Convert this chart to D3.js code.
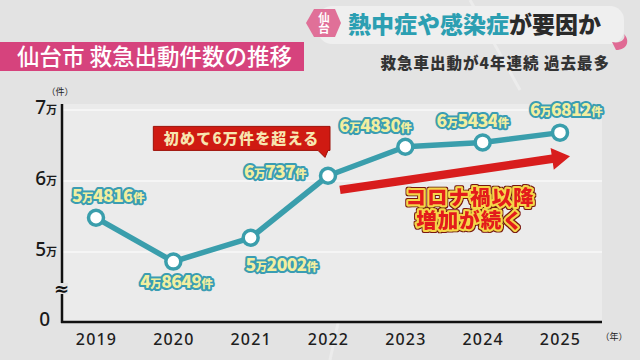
<!DOCTYPE html>
<html><head><meta charset="utf-8">
<script src="https://cdn.jsdelivr.net/npm/d3@7"></script>
<style>
html,body{margin:0;padding:0;background:#e3e3e3;}
svg{display:block;font-family:"Noto Sans CJK JP","Noto Sans",sans-serif;}
</style></head><body>
<svg id="c" width="640" height="360"></svg>
<script>
// ---- data ----
const years = ["2019","2020","2021","2022","2023","2024","2025"];
const values = [54816, 48649, 52002, 60737, 64830, 65434, 66812];
const yTickValues = [0, 50000, 60000, 70000];
const yTickLabels = ["0", "5", "6", "7"];
const title = "仙台市 救急出動件数の推移";
const headline1 = "熱中症や感染症";
const headline2 = "が要因か";
const subhead = "救急車出動が4年連続 過去最多";
const badgeText = "仙台";
const calloutText = "初めて6万件を超える";
const trendText = ["コロナ禍以降", "増加が続く"];

// ---- layout ----
const svg = d3.select("#c");
const W = 640, H = 360;
const plot = {left: 62, right: 602, top: 104, bottom: 322};

const x = d3.scalePoint().domain(years).range([96, 560]);
// broken axis: 0 at bottom, then 45000..70000 linear
const y = d3.scaleLinear().domain([0, 45000, 70000]).range([plot.bottom, 287.5, 110]);

// filter: dark outline around trend text
const defs = svg.append("defs");
const f = defs.append("filter").attr("id", "outl").attr("x", "-10%").attr("y", "-30%").attr("width", "120%").attr("height", "160%");
f.append("feMorphology").attr("in", "SourceAlpha").attr("operator", "dilate").attr("radius", 1.3).attr("result", "d");
f.append("feFlood").attr("flood-color", "#7a1510").attr("result", "c");
f.append("feComposite").attr("in", "c").attr("in2", "d").attr("operator", "in").attr("result", "o");
const fm = f.append("feMerge");
fm.append("feMergeNode").attr("in", "o");
fm.append("feMergeNode").attr("in", "SourceGraphic");

// background
svg.append("rect").attr("width", W).attr("height", H).attr("fill", "#e3e3e3");
const deco = svg.append("g").attr("stroke", "#ececec").attr("stroke-width", 3).attr("fill", "none");
deco.append("path").attr("d", "M470,0 L520,90");
deco.append("path").attr("d", "M380,130 L330,360");

// plot panel
svg.append("rect").attr("x", plot.left).attr("y", plot.top)
  .attr("width", plot.right - plot.left).attr("height", plot.bottom - plot.top)
  .attr("fill", "#ebebeb");

// gridlines
svg.append("g").selectAll("line").data(yTickValues.slice(1)).join("line")
  .attr("x1", plot.left).attr("x2", plot.right)
  .attr("y1", d => y(d)).attr("y2", d => y(d))
  .attr("stroke", "#f8f8f8").attr("stroke-width", 1.5);

// axes
const yAxis = d3.axisLeft(y).tickValues(yTickValues).tickSize(0).tickFormat("");
const yg = svg.append("g").attr("transform", `translate(${plot.left},0)`).call(yAxis);
yg.select(".domain").attr("stroke", "#111").attr("stroke-width", 2.5)
  .attr("d", `M0,${plot.top}V${plot.bottom + 1}`);
yg.selectAll(".tick").each(function(d, i) {
  const t = d3.select(this).append("text").attr("x", d > 0 ? -5 : -12).attr("dy", "0.36em")
    .attr("text-anchor", "end").attr("fill", "#1a1a1a").style("font-family", "'Noto Sans',sans-serif");
  t.append("tspan").attr("font-size", 19).attr("font-weight", 500).text(yTickLabels[i]);
  if (d > 0) t.append("tspan").attr("font-size", 11).attr("font-weight", 700)
    .style("font-family", "'Noto Sans CJK JP'").text("万");
});
svg.append("text").attr("x", 60).attr("y", 95).attr("text-anchor", "middle")
  .attr("font-size", 9).attr("fill", "#222").text("（件）");

// break mark
svg.append("rect").attr("x", plot.left - 6).attr("y", 283).attr("width", 12).attr("height", 11).attr("fill", "#e3e3e3");
svg.append("text").attr("x", plot.left - 0.5).attr("y", 289).attr("dy", "0.35em").attr("text-anchor", "middle")
  .attr("font-size", 18).attr("font-weight", 700).attr("fill", "#111")
  .style("font-family", "'DejaVu Sans',sans-serif").text("≈");

const xAxis = d3.axisBottom(x).tickSize(0).tickPadding(12);
const xg = svg.append("g").attr("transform", `translate(0,${plot.bottom})`).call(xAxis);
xg.select(".domain").attr("stroke", "#111").attr("stroke-width", 2.5)
  .attr("d", `M${plot.left - 1},0H${plot.right}`);
xg.selectAll(".tick text").attr("font-size", 16).attr("font-weight", 500)
  .attr("fill", "#1e1e1e").attr("letter-spacing", 1.2)
  .style("font-family", "'Noto Sans',sans-serif");
svg.append("text").attr("x", 614).attr("y", 340).attr("text-anchor", "middle")
  .attr("font-size", 9).attr("fill", "#222").text("（年）");

// line + points
const pts = years.map((yr, i) => ({yr, v: values[i]}));
svg.append("path").datum(pts)
  .attr("d", d3.line().x(d => x(d.yr)).y(d => y(d.v)))
  .attr("fill", "none").attr("stroke", "#3a9eac").attr("stroke-width", 5.5).attr("stroke-linejoin", "round");
svg.append("g").selectAll("circle").data(pts).join("circle")
  .attr("cx", d => x(d.yr)).attr("cy", d => y(d.v)).attr("r", 7.5)
  .attr("fill", "#ffffff").attr("stroke", "#3a9eac").attr("stroke-width", 3.5);

// data labels (offset from point)
const labelOffsets = [[12,-22],[3,21],[31,27],[-53,-4],[-30,-20],[-10,-21],[6,-22]];
const lg = svg.append("g");
pts.forEach((d, i) => {
  const man = Math.floor(d.v / 10000), rest = d.v % 10000;
  const t = lg.append("text")
    .attr("x", x(d.yr) + labelOffsets[i][0]).attr("y", y(d.v) + labelOffsets[i][1])
    .attr("dy", "0.36em").attr("text-anchor", "middle")
    .attr("fill", "#f2eea0").attr("stroke", "#3a9db3").attr("stroke-width", 4)
    .attr("stroke-linejoin", "round").attr("paint-order", "stroke")
    .attr("font-weight", 900).attr("letter-spacing", -0.6);
  t.append("tspan").attr("font-size", 17.5).text(man);
  t.append("tspan").attr("font-size", 11.5).text("万");
  t.append("tspan").attr("font-size", 17.5).text(rest);
  t.append("tspan").attr("font-size", 11.5).text("件");
});

// callout box: 初めて6万件を超える
const cb = {x0: x("2020") - 20, x1: x("2022") + 2, yc: y(66000)};
const cg = svg.append("g");
cg.append("path")
  .attr("d", `M${cb.x0},${cb.yc - 12}H${cb.x1}V${cb.yc + 12}H${cb.x1 - 2}L${cb.x1 - 5},${cb.yc + 19}L${cb.x1 - 12},${cb.yc + 12}H${cb.x0}Z`)
  .attr("fill", "#cf1a12").attr("stroke", "#9c1008").attr("stroke-width", 1);
cg.append("text").attr("x", (cb.x0 + cb.x1) / 2).attr("y", cb.yc).attr("dy", "0.36em")
  .attr("text-anchor", "middle").attr("font-size", 15).attr("font-weight", 900)
  .attr("fill", "#f7e6b0").attr("letter-spacing", 1.2).text(calloutText);

// trend arrow
const a0 = [x("2022") + 12, y(58750)], a1 = [x("2025") + 10, y(63500)];
const ang = Math.atan2(a1[1] - a0[1], a1[0] - a0[0]);
const headLen = 18, headW = 11, shaftW = 4.2;
const ux = Math.cos(ang), uy = Math.sin(ang), nx = -uy, ny = ux;
const hb = [a1[0] - ux * headLen, a1[1] - uy * headLen];
const arrowPts = [
  [a0[0] + nx * shaftW, a0[1] + ny * shaftW],
  [hb[0] + nx * shaftW, hb[1] + ny * shaftW],
  [hb[0] + nx * headW, hb[1] + ny * headW],
  a1,
  [hb[0] - nx * headW, hb[1] - ny * headW],
  [hb[0] - nx * shaftW, hb[1] - ny * shaftW],
  [a0[0] - nx * shaftW, a0[1] - ny * shaftW]
];
svg.append("path").attr("d", d3.line()(arrowPts) + "Z").attr("fill", "#d81d1d");

// trend text (one text element, two lines)
const tt = svg.append("g").attr("filter", "url(#outl)").append("text")
  .attr("x", 470).attr("y", y(57600)).attr("text-anchor", "middle")
  .attr("font-size", 20.5).attr("font-weight", 900).attr("fill", "#e31e1a").attr("letter-spacing", 1)
  .attr("stroke", "#f5d64a").attr("stroke-width", 4).attr("stroke-linejoin", "round")
  .attr("paint-order", "stroke");
trendText.forEach((s, i) => {
  tt.append("tspan").attr("x", 470).attr("dy", i === 0 ? "0.36em" : 23).text(s);
});

// title bar
svg.append("rect").attr("x", 0).attr("y", 42).attr("width", 304).attr("height", 29).attr("fill", "#d6437d");
svg.append("text").attr("x", 17).attr("y", 56.5).attr("dy", "0.36em")
  .attr("font-size", 22.5).attr("font-weight", 500).attr("fill", "#ffffff").text(title);

// headline box
svg.append("rect").attr("x", 318).attr("y", 6).attr("width", 306).attr("height", 38).attr("rx", 14)
  .attr("fill", "#efefef");
svg.append("path").attr("d", "M612,42 C622,44 626,38 624,34 C630,40 628,50 616,50 Z").attr("fill", "#e06a94");
const bx = 323, by = 23;
svg.append("path")
  .attr("d", d3.line()([[bx - 17, by], [bx - 9, by - 14], [bx + 12, by - 14], [bx + 18, by], [bx + 12, by + 14], [bx - 9, by + 14]]) + "Z")
  .attr("fill", "#e07098");
svg.append("text").attr("x", bx + 1).attr("y", by).attr("text-anchor", "middle")
  .attr("writing-mode", "vertical-rl").attr("font-size", 11.5).attr("font-weight", 700)
  .attr("fill", "#fff").text(badgeText);

const ht = svg.append("text").attr("x", 348).attr("y", 25).attr("dy", "0.36em")
  .attr("font-size", 23).attr("font-weight", 900);
ht.append("tspan").attr("fill", "#2c9fb2").text(headline1);
ht.append("tspan").attr("fill", "#2a2a2a").text(headline2);

svg.append("text").attr("x", 610).attr("y", 63).attr("dy", "0.36em").attr("text-anchor", "end")
  .attr("font-size", 15.5).attr("font-weight", 900).attr("fill", "#333").attr("letter-spacing", 1).text(subhead);
</script>
</body></html>
